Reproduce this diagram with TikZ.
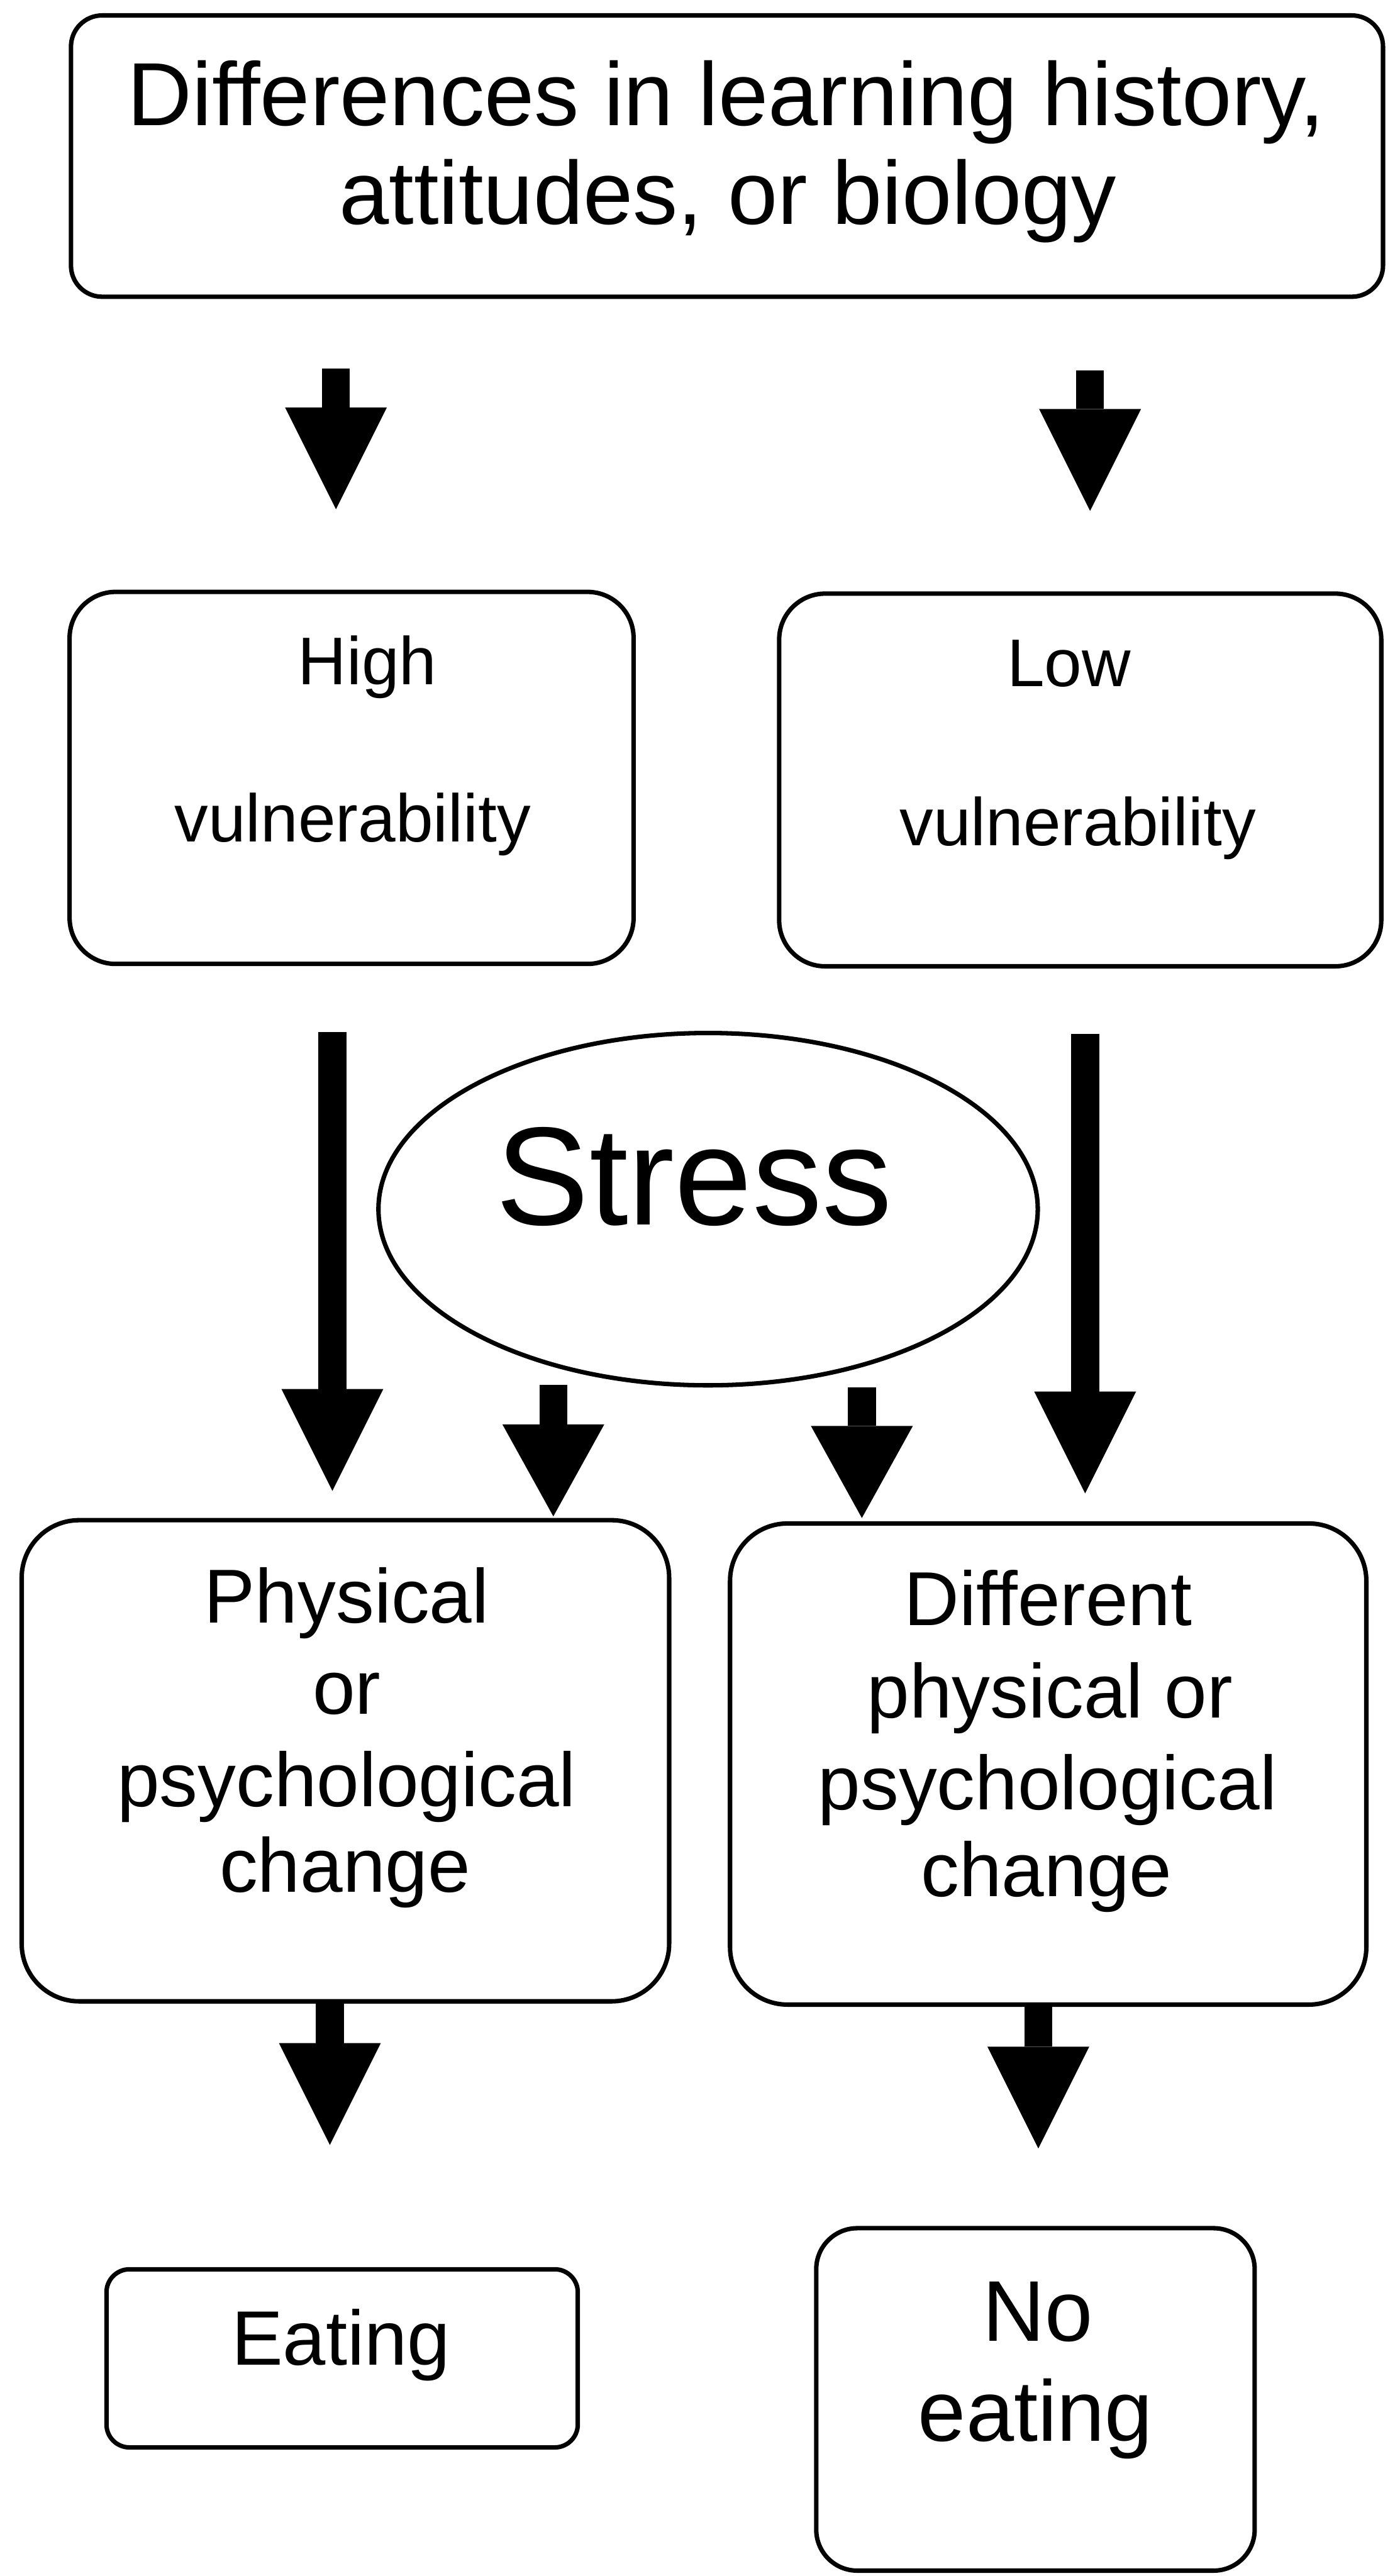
\documentclass[tikz,border=0pt]{standalone}
\usepackage{fontspec}
\setmainfont{Liberation Sans}
\usetikzlibrary{arrows.meta,shapes.geometric}
\begin{document}
\begin{tikzpicture}[x=0.025cm,y=-0.025cm,
  box/.style={draw, line width=0.0675cm, rectangle, inner sep=0pt},
  oval/.style={draw, line width=0.0675cm, ellipse, inner sep=0pt},
  txt/.style={inner sep=0pt, anchor=base},
  ftop/.style={font=\fontsize{38.8pt}{42pt}\selectfont},
  fvul/.style={font=\fontsize{29.2pt}{32pt}\selectfont},
  fstress/.style={font=\fontsize{60.5pt}{64pt}\selectfont},
  fmid/.style={font=\fontsize{33.1pt}{36pt}\selectfont},
  feat/.style={font=\fontsize{33.4pt}{36pt}\selectfont},
  fno/.style={font=\fontsize{37.3pt}{40pt}\selectfont},
  fat/.style={line width=0.425cm, line cap=butt,
    -{Triangle[length=1.55cm 0 0, width=1.55cm 0 0, line width=0pt 0 0]}},
  fatshort/.style={line width=0.425cm, line cap=butt,
    -{Triangle[length=1.4cm 0 0, width=1.55cm 0 0, line width=0pt 0 0]}}
]
\useasboundingbox (0,0) rectangle (852,1568);

% boxes
\node[box, rounded corners=0.475cm, minimum width=19.96cm, minimum height=4.28cm] (top) at (442.5,95) {};
\node[box, rounded corners=0.7cm, minimum width=8.58cm, minimum height=5.66cm] (high) at (214,473.5) {};
\node[box, rounded corners=0.7cm, minimum width=9.16cm, minimum height=5.67cm] (low) at (657.5,474.75) {};
\node[oval, minimum width=10.03cm, minimum height=5.36cm] (stress) at (431,736) {};
\node[box, rounded corners=0.875cm, minimum width=9.85cm, minimum height=7.32cm] (phys) at (210.25,1071.75) {};
\node[box, rounded corners=0.875cm, minimum width=9.68cm, minimum height=7.32cm] (diff) at (638,1073.75) {};
\node[box, rounded corners=0.35cm, minimum width=7.17cm, minimum height=2.71cm] (eat) at (208.25,1435.5) {};
\node[box, rounded corners=0.625cm, minimum width=6.67cm, minimum height=5.21cm] (noeat) at (630.25,1460.5) {};

% texts
\node[txt, ftop] (t1a) at (442,76.5) {Differences in learning history,};
\node[txt, ftop] (t1b) at (443,136.5) {attitudes, or biology};
\node[txt, fvul] (thigh) at (223.6,416.5) {High};
\node[txt, fvul] (thighv) at (214.6,512.5) {vulnerability};
\node[txt, fvul] (tlow) at (650.6,418) {Low};
\node[txt, fvul] (tlowv) at (656,514.5) {vulnerability};
\node[txt, fstress] (tstress) at (422.5,745.5) {Stress};
\node[txt, fmid] (tp1) at (211,988) {Physical};
\node[txt, fmid] (tp2) at (211,1043.5) {or};
\node[txt, fmid] (tp3) at (211,1099.5) {psychological};
\node[txt, fmid] (tp4) at (210,1151.5) {change};
\node[txt, fmid] (td1) at (638,989.5) {Different};
\node[txt, fmid] (td2) at (639,1045.5) {physical or};
\node[txt, fmid] (td3) at (637.6,1101.5) {psychological};
\node[txt, fmid] (td4) at (637,1154.5) {change};
\node[txt, feat] (teat) at (207.5,1439.5) {Eating};
\node[txt, fno] (tno1) at (631.6,1425) {No};
\node[txt, fno] (tno2) at (630.3,1486) {eating};

% arrow end points
\coordinate (a1s) at (204.5,224.5);
\coordinate (a1e) at (204.5,310);
\coordinate (a2s) at (663.5,225.5);
\coordinate (a2e) at (663.5,311);
\coordinate (a3s) at (202.3,628);
\coordinate (a3e) at (202.3,907.5);
\coordinate (a4s) at (660.5,629.5);
\coordinate (a4e) at (660.5,909);
\coordinate (a5s) at (336.8,843);
\coordinate (a5e) at (336.8,923);
\coordinate (a6s) at (524.6,844.5);
\coordinate (a6e) at (524.6,924);
\coordinate (a7s) at (200.8,1219.5);
\coordinate (a7e) at (200.8,1305.6);
\coordinate (a8s) at (632,1221.5);
\coordinate (a8e) at (632,1307.8);

% arrows
\draw[fat] (a1s) -- (a1e);
\draw[fat] (a2s) -- (a2e);
\draw[fat] (a3s) -- (a3e);
\draw[fat] (a4s) -- (a4e);
\draw[fatshort] (a5s) -- (a5e);
\draw[fatshort] (a6s) -- (a6e);
\draw[fat] (a7s) -- (a7e);
\draw[fat] (a8s) -- (a8e);
\end{tikzpicture}
\end{document}
